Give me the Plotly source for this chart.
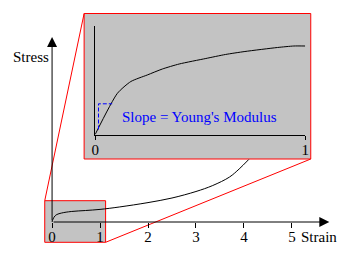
import plotly.graph_objects as go

# ---- data ----
main_strain = [0, 0.02, 0.06, 0.1, 0.2, 0.4, 0.7, 1.0, 1.4, 2.0, 2.5, 3.0, 3.35, 3.7, 3.9, 4.1]
main_stress = [0, 3, 6, 7.5, 9, 10.5, 11.5, 12.6, 15, 19.4, 24, 30.5, 36.5, 45, 53, 62.5]

inset_strain = [0, 0.106, 0.17, 0.248, 0.32, 0.40, 0.527, 0.62, 0.713, 0.868, 0.946, 1.0]
inset_stress = [0, 41.2, 53, 59.5, 65.5, 70.5, 76, 80, 83, 87, 88.5, 88.5]

slope_x = [0.016, 0.016, 0.081]
slope_y = [5, 30.7, 30.7]

main_ticks = [0, 1, 2, 3, 4, 5]
main_tick_labels = ["0", "1", "2", "3", "4", "5"]
inset_ticks = [0, 1]
inset_tick_labels = ["0", "1"]

W, H = 347, 258
GRAY = "#c3c3c3"
RED = "#ff0000"
FAM = "Liberation Serif"
FONT = dict(family=FAM, size=15, color="black")

def px(x):
    return x / W

def py(y):
    return (H - y) / H

fig = go.Figure()

fig.add_trace(go.Scatter(x=main_strain, y=main_stress, mode="lines",
                         line=dict(color="black", width=1, shape="spline"),
                         xaxis="x", yaxis="y", hoverinfo="skip"))
fig.add_trace(go.Scatter(x=inset_strain, y=inset_stress, mode="lines",
                         line=dict(color="black", width=1, shape="spline", smoothing=0.6),
                         xaxis="x2", yaxis="y2", hoverinfo="skip"))
fig.add_trace(go.Scatter(x=slope_x, y=slope_y, mode="lines",
                         line=dict(color="#0000ff", width=1, dash="4px,2px"),
                         xaxis="x2", yaxis="y2", hoverinfo="skip"))

x0px, xscale = 49.2, 49.1
axis_py = 222.0

fig.update_layout(
    width=W, height=H, autosize=False,
    margin=dict(l=0, r=0, t=0, b=0),
    paper_bgcolor="white", plot_bgcolor="rgba(0,0,0,0)",
    showlegend=False,
    font=dict(family=FAM),
    xaxis=dict(domain=[0, 1], range=[-x0px / xscale, (W - x0px) / xscale],
               anchor="free", position=(H - axis_py) / H,
               showgrid=False, zeroline=False, showline=False,
               ticks="outside", ticklen=5, tickwidth=1, tickcolor="black",
               ticklabelstandoff=-4,
               tickvals=main_ticks, ticktext=main_tick_labels, tickfont=FONT),
    yaxis=dict(domain=[0, 1], range=[-(H - axis_py), axis_py], visible=False),
    xaxis2=dict(domain=[px(93.3), px(308.3)], range=[0, 1], anchor="y2",
                showgrid=False, zeroline=False, showline=True, linecolor="black", linewidth=1,
                ticks="outside", ticklen=4, tickwidth=1, tickcolor="black",
                ticklabelstandoff=-3,
                tickvals=inset_ticks, ticktext=inset_tick_labels, tickfont=FONT),
    yaxis2=dict(domain=[py(134.5), py(26)], range=[0, 108.5], anchor="x2",
                showgrid=False, zeroline=False, showline=True, linecolor="black", linewidth=1,
                ticks="", showticklabels=False),
)

shapes = [
    dict(type="rect", xref="paper", yref="paper", x0=px(41.7), x1=px(104), y0=py(242.3), y1=py(200.7),
         fillcolor=GRAY, line=dict(color=RED, width=1), layer="below"),
    dict(type="rect", xref="paper", yref="paper", x0=px(82), x1=px(314), y0=py(159), y1=py(13.5),
         fillcolor=GRAY, line=dict(color=RED, width=1), layer="below"),
    dict(type="line", xref="paper", yref="paper", x0=px(41.7), y0=py(200.7), x1=px(82), y1=py(13.5),
         line=dict(color=RED, width=1), layer="below"),
    dict(type="line", xref="paper", yref="paper", x0=px(104), y0=py(242.3), x1=px(314), y1=py(159),
         line=dict(color=RED, width=1), layer="below"),
]
fig.update_layout(shapes=shapes)

ann = [
    dict(x=(333 - x0px) / xscale, y=0, ax=0, ay=0, xref="x", yref="y", axref="x", ayref="y",
         showarrow=True, arrowhead=2, arrowsize=2, arrowwidth=1, arrowcolor="black", text=""),
    dict(x=0, y=axis_py - 37, ax=0, ay=0, xref="x", yref="y", axref="x", ayref="y",
         showarrow=True, arrowhead=2, arrowsize=2, arrowwidth=1, arrowcolor="black", text=""),
    dict(text="Stress", x=px(7), y=py(56.7), xref="paper", yref="paper",
         xanchor="left", yanchor="middle", showarrow=False, font=FONT),
    dict(text="Strain", x=px(302), y=py(237), xref="paper", yref="paper",
         xanchor="left", yanchor="middle", showarrow=False, font=FONT),
    dict(text="Slope = Young's Modulus", x=0.12, y=17.8, xref="x2", yref="y2",
         xanchor="left", yanchor="middle", showarrow=False,
         font=dict(family=FAM, size=15, color="#0000ff")),
]
fig.update_layout(annotations=ann)

fig.write_html("out.html")
